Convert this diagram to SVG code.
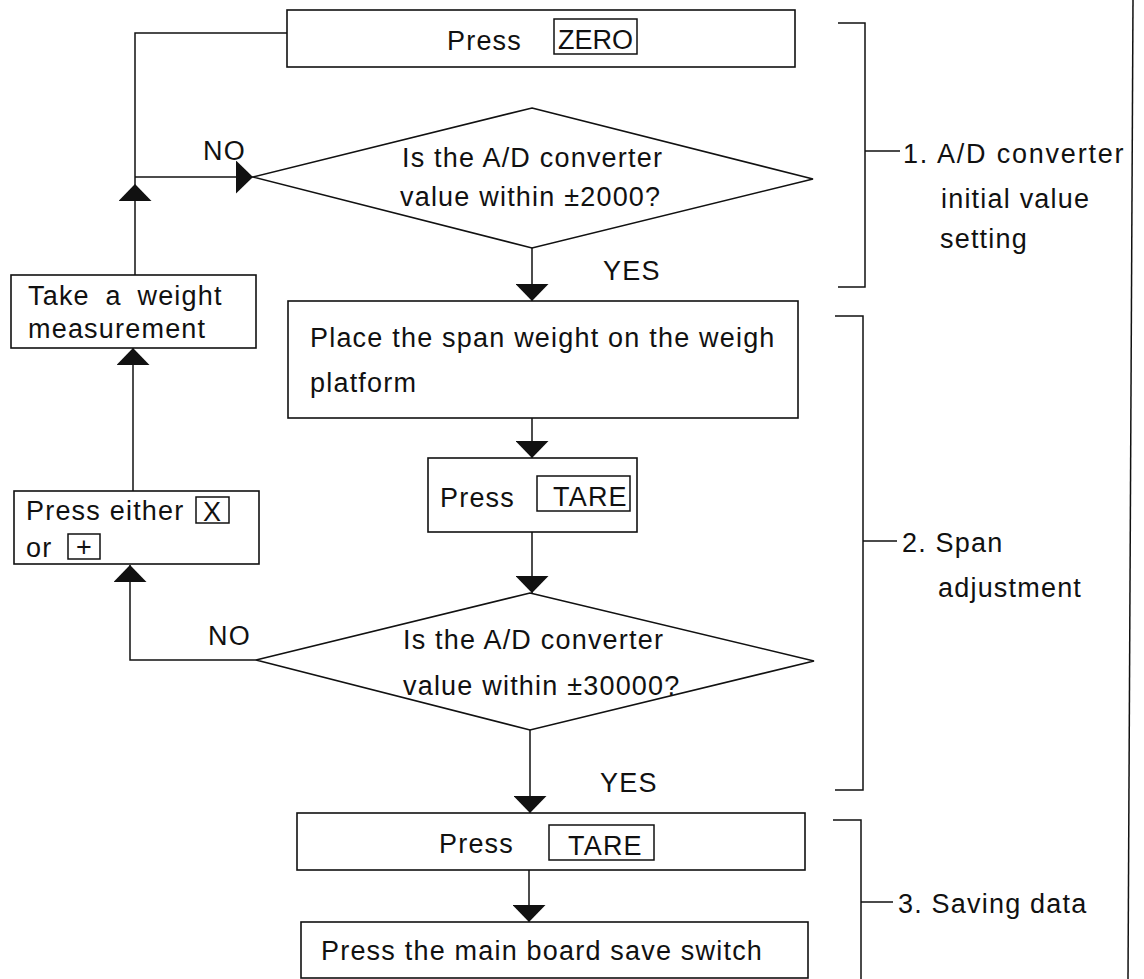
<svg xmlns="http://www.w3.org/2000/svg" width="1144" height="979" viewBox="0 0 1144 979">
<style>
  .box { fill: #fff; stroke: #111; stroke-width: 1.6; }
  .key { fill: none; stroke: #111; stroke-width: 1.5; }
  .ln { fill: none; stroke: #111; stroke-width: 1.5; }
  .t { font-family: "Liberation Sans", Arial, sans-serif; font-size: 27px; letter-spacing: 1.2px; fill: #111; }
  .k { letter-spacing: 0; }
</style>
<defs>
  <marker id="ah" viewBox="0 0 17 33" refX="17" refY="16.5" markerWidth="17" markerHeight="33" markerUnits="userSpaceOnUse" orient="auto">
    <path d="M0,0 L17,16.5 L0,33 z" fill="#111"/>
  </marker>
</defs>
<rect width="1144" height="979" fill="#fff"/>

<g id="connectors">
  <path class="ln" d="M135,275 V184" marker-end="url(#ah)"/>
  <path class="ln" d="M135,184 V33 H287"/>
  <path class="ln" d="M135,177 H253" marker-end="url(#ah)"/>
  <path class="ln" d="M532,248 V301" marker-end="url(#ah)"/>
  <path class="ln" d="M532,418 V458" marker-end="url(#ah)"/>
  <path class="ln" d="M532,532 V593" marker-end="url(#ah)"/>
  <path class="ln" d="M256,660 H130 V565" marker-end="url(#ah)"/>
  <path class="ln" d="M133,491 V348" marker-end="url(#ah)"/>
  <path class="ln" d="M530,730 V813" marker-end="url(#ah)"/>
  <path class="ln" d="M529,870 V922" marker-end="url(#ah)"/>
  <text class="t" x="203" y="160">NO</text>
  <text class="t" x="603" y="280">YES</text>
  <text class="t" x="208" y="645">NO</text>
  <text class="t" x="600" y="792">YES</text>
</g>

<g id="press-zero">
  <rect class="box" x="287" y="10" width="508" height="57"/>
  <text class="t" x="447" y="50">Press</text>
  <rect class="key" x="554" y="19" width="83" height="35"/>
  <text class="t k" x="558" y="49">ZERO</text>
</g>

<g id="decision-1">
  <polygon class="box" points="532,108 813,179 532,248 253,177"/>
  <text class="t" x="402" y="167">Is the A/D converter</text>
  <text class="t" x="400" y="206">value within ±2000?</text>
</g>

<g id="take-weight">
  <rect class="box" x="11" y="275" width="245" height="73"/>
  <text class="t" x="28" y="305" word-spacing="7">Take a weight</text>
  <text class="t" x="28" y="338">measurement</text>
</g>

<g id="place-weight">
  <rect class="box" x="288" y="301" width="510" height="117"/>
  <text class="t" x="310" y="347">Place the span weight on the weigh</text>
  <text class="t" x="310" y="392">platform</text>
</g>

<g id="press-tare-1">
  <rect class="box" x="428" y="458" width="209" height="74"/>
  <text class="t" x="440" y="507">Press</text>
  <rect class="key" x="537" y="476" width="93" height="35"/>
  <text class="t" x="553" y="506">TARE</text>
</g>

<g id="press-either">
  <rect class="box" x="14" y="491" width="245" height="73"/>
  <text class="t" x="26" y="520">Press either</text>
  <rect class="key" x="196" y="497" width="33" height="26"/>
  <text class="t k" x="203" y="521">X</text>
  <text class="t" x="26" y="557">or</text>
  <rect class="key" x="68" y="534" width="32" height="25"/>
  <text class="t k" x="76" y="556">+</text>
</g>

<g id="decision-2">
  <polygon class="box" points="530,593 814,661 530,730 256,660"/>
  <text class="t" x="403" y="649">Is the A/D converter</text>
  <text class="t" x="403" y="695">value within ±30000?</text>
</g>

<g id="press-tare-2">
  <rect class="box" x="297" y="813" width="508" height="57"/>
  <text class="t" x="439" y="853">Press</text>
  <rect class="key" x="549" y="825" width="105" height="35"/>
  <text class="t" x="568" y="855">TARE</text>
</g>

<g id="save-switch">
  <rect class="box" x="301" y="922" width="507" height="56"/>
  <text class="t" x="321" y="960">Press the main board save switch</text>
</g>

<g id="bracket-1">
  <path class="ln" d="M838,23 H865 V287 H838 M865,151 H900"/>
  <text class="t" x="903" y="163" style="letter-spacing:1.8px">1. A/D converter</text>
  <text class="t" x="941" y="208">initial value</text>
  <text class="t" x="940" y="248">setting</text>
</g>

<g id="bracket-2">
  <path class="ln" d="M835,316 H863 V790 H835 M863,541 H897"/>
  <text class="t" x="902" y="552">2. Span</text>
  <text class="t" x="938" y="597">adjustment</text>
</g>

<g id="bracket-3">
  <path class="ln" d="M833,820 H861 V979 M861,902 H893"/>
  <text class="t" x="898" y="913">3. Saving data</text>
</g>

<g id="frame-line">
  <path class="ln" d="M1133,0 L1128,979"/>
</g>
</svg>
